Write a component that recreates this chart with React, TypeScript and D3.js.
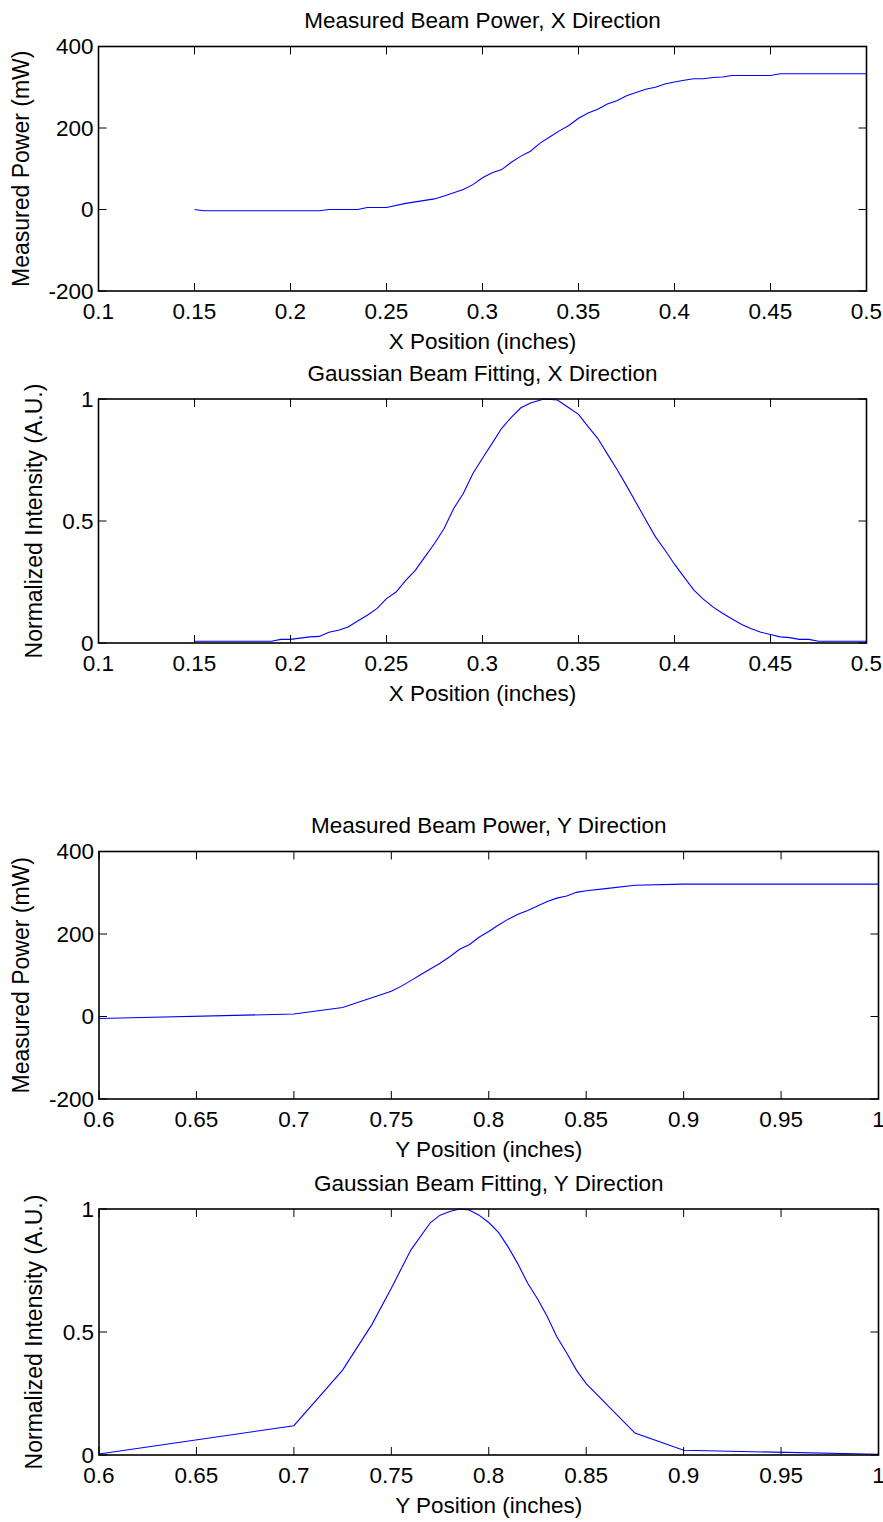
import * as d3 from 'd3'

// X direction scan
const xScanPos = [0.15, 0.155, 0.215, 0.22, 0.235, 0.24, 0.25, 0.26, 0.275, 0.28, 0.29, 0.295, 0.3, 0.305, 0.31, 0.315, 0.32, 0.325, 0.33, 0.335, 0.34, 0.345, 0.35, 0.355, 0.36, 0.365, 0.37, 0.375, 0.38, 0.385, 0.39, 0.395, 0.4, 0.405, 0.41, 0.415, 0.42, 0.425, 0.43, 0.45, 0.455, 0.5]
const xScanPower = [0, -3, -3, 0, 0, 5, 5, 15, 26, 33, 49, 61, 78, 90, 98, 116, 131, 143, 163, 178, 193, 206, 224, 237, 246, 259, 267, 279, 287, 295, 300, 308, 313, 317, 321, 321, 324, 325, 329, 329, 333, 333]

const xFitPos = [0.15, 0.19, 0.195, 0.2, 0.21, 0.215, 0.22, 0.225, 0.23, 0.235, 0.24, 0.245, 0.25, 0.255, 0.26, 0.265, 0.27, 0.275, 0.28, 0.285, 0.29, 0.295, 0.3, 0.305, 0.31, 0.315, 0.32, 0.325, 0.332, 0.339, 0.344, 0.35, 0.355, 0.36, 0.365, 0.37, 0.375, 0.38, 0.385, 0.39, 0.395, 0.4, 0.405, 0.41, 0.415, 0.42, 0.425, 0.43, 0.435, 0.44, 0.445, 0.45, 0.455, 0.46, 0.465, 0.47, 0.475, 0.5]
const xFitIntensity = [0.007, 0.007, 0.015, 0.015, 0.025, 0.027, 0.044, 0.052, 0.066, 0.09, 0.114, 0.141, 0.182, 0.209, 0.257, 0.298, 0.353, 0.408, 0.469, 0.551, 0.613, 0.695, 0.757, 0.818, 0.88, 0.925, 0.964, 0.984, 1.0, 0.996, 0.969, 0.937, 0.887, 0.839, 0.775, 0.712, 0.645, 0.575, 0.505, 0.436, 0.381, 0.323, 0.27, 0.218, 0.18, 0.148, 0.122, 0.098, 0.076, 0.058, 0.044, 0.035, 0.025, 0.022, 0.015, 0.015, 0.007, 0.007]

// Y direction scan
const yScanPos = [0.6, 0.7, 0.725, 0.75, 0.755, 0.76, 0.765, 0.77, 0.775, 0.78, 0.785, 0.79, 0.795, 0.8, 0.805, 0.81, 0.815, 0.82, 0.825, 0.83, 0.835, 0.84, 0.845, 0.85, 0.86, 0.875, 0.9, 1.0]
const yScanPower = [-5, 6, 22, 61, 73, 87, 101, 115, 129, 145, 163, 174, 192, 206, 222, 236, 248, 257, 268, 279, 287, 292, 301, 305, 310, 318, 321, 321]

const yFitPos = [0.6, 0.7, 0.725, 0.74, 0.75, 0.76, 0.77, 0.775, 0.78, 0.785, 0.79, 0.795, 0.8, 0.805, 0.81, 0.815, 0.82, 0.825, 0.83, 0.835, 0.84, 0.845, 0.85, 0.875, 0.9, 1.0]
const yFitIntensity = [0.004, 0.119, 0.345, 0.53, 0.678, 0.833, 0.944, 0.975, 0.99, 1.0, 0.996, 0.975, 0.945, 0.905, 0.845, 0.776, 0.698, 0.635, 0.563, 0.48, 0.415, 0.345, 0.29, 0.089, 0.019, 0.003]

const xTicksX = [0.1, 0.15, 0.2, 0.25, 0.3, 0.35, 0.4, 0.45, 0.5]
const xTicksY = [0.6, 0.65, 0.7, 0.75, 0.8, 0.85, 0.9, 0.95, 1]
const powerTicks = [-200, 0, 200, 400]
const intensityTicks = [0, 0.5, 1]

const FONT = '"Liberation Sans", Arial, Helvetica, sans-serif'

type PanelProps = {
  box: { l: number; r: number; t: number; b: number }
  xs: number[]
  ys: number[]
  xDomain: [number, number]
  yDomain: [number, number]
  xTicks: number[]
  yTicks: number[]
  title: string
  xLabel: string
  yLabel: string
  yLabelX: number
}

const fmt = (v: number) => String(Math.round(v * 1000) / 1000)

function Panel({ box, xs, ys, xDomain, yDomain, xTicks, yTicks, title, xLabel, yLabel, yLabelX }: PanelProps) {
  const x = d3.scaleLinear().domain(xDomain).range([box.l, box.r])
  const y = d3.scaleLinear().domain(yDomain).range([box.b, box.t])
  const pts = xs.map((v, i) => [v, ys[i]] as [number, number])
  const line = d3.line<[number, number]>().x(d => x(d[0])).y(d => y(d[1]))
  const tk = 8
  const fs = 22.5
  const midX = (box.l + box.r) / 2
  const midY = (box.t + box.b) / 2

  return (
    <g fontFamily={FONT} fill="#000">
      <text x={midX} y={box.t - 26} textAnchor="middle" dominantBaseline="central" fontSize={fs}>{title}</text>
      <path d={line(pts) || ''} fill="none" stroke="#0000ff" strokeWidth={1.1} />
      {xTicks.map(v => (
        <g key={'x' + v}>
          <line x1={x(v)} x2={x(v)} y1={box.b} y2={box.b - tk} stroke="#000" strokeWidth={1} />
          <line x1={x(v)} x2={x(v)} y1={box.t} y2={box.t + tk} stroke="#000" strokeWidth={1} />
          <text x={x(v)} y={box.b + 20} textAnchor="middle" dominantBaseline="central" fontSize={fs}>{fmt(v)}</text>
        </g>
      ))}
      {yTicks.map(v => (
        <g key={'y' + v}>
          <line x1={box.l} x2={box.l + tk} y1={y(v)} y2={y(v)} stroke="#000" strokeWidth={1} />
          <line x1={box.r} x2={box.r - tk} y1={y(v)} y2={y(v)} stroke="#000" strokeWidth={1} />
          <text x={box.l - 5} y={y(v)} textAnchor="end" dominantBaseline="central" fontSize={fs}>{fmt(v)}</text>
        </g>
      ))}
      <rect x={box.l} y={box.t} width={box.r - box.l} height={box.b - box.t} fill="none" stroke="#000" strokeWidth={1.6} />
      <text x={midX} y={box.b + 50} textAnchor="middle" dominantBaseline="central" fontSize={fs}>{xLabel}</text>
      <text transform={`translate(${yLabelX},${midY}) rotate(-90)`} textAnchor="middle" dominantBaseline="central" fontSize={23}>{yLabel}</text>
    </g>
  )
}

export default function App() {
  return (
    <svg width={883} height={1522} style={{ position: 'absolute', left: 0, top: 0, background: '#fff' }}>
      <rect width={883} height={1522} fill="#fff" />
      <Panel box={{ l: 98.5, r: 866.5, t: 46.5, b: 291 }} xs={xScanPos} ys={xScanPower}
        xDomain={[0.1, 0.5]} yDomain={[-200, 400]} xTicks={xTicksX} yTicks={powerTicks}
        title="Measured Beam Power, X Direction" xLabel="X Position (inches)" yLabel="Measured Power (mW)" yLabelX={21} />
      <Panel box={{ l: 98.5, r: 866.5, t: 399, b: 643 }} xs={xFitPos} ys={xFitIntensity}
        xDomain={[0.1, 0.5]} yDomain={[0, 1]} xTicks={xTicksX} yTicks={intensityTicks}
        title="Gaussian Beam Fitting, X Direction" xLabel="X Position (inches)" yLabel="Normalized Intensity (A.U.)" yLabelX={34} />
      <Panel box={{ l: 99, r: 878.5, t: 851.5, b: 1099 }} xs={yScanPos} ys={yScanPower}
        xDomain={[0.6, 1]} yDomain={[-200, 400]} xTicks={xTicksY} yTicks={powerTicks}
        title="Measured Beam Power, Y Direction" xLabel="Y Position (inches)" yLabel="Measured Power (mW)" yLabelX={21} />
      <Panel box={{ l: 99, r: 878.5, t: 1209, b: 1455 }} xs={yFitPos} ys={yFitIntensity}
        xDomain={[0.6, 1]} yDomain={[0, 1]} xTicks={xTicksY} yTicks={intensityTicks}
        title="Gaussian Beam Fitting, Y Direction" xLabel="Y Position (inches)" yLabel="Normalized Intensity (A.U.)" yLabelX={34} />
    </svg>
  )
}
